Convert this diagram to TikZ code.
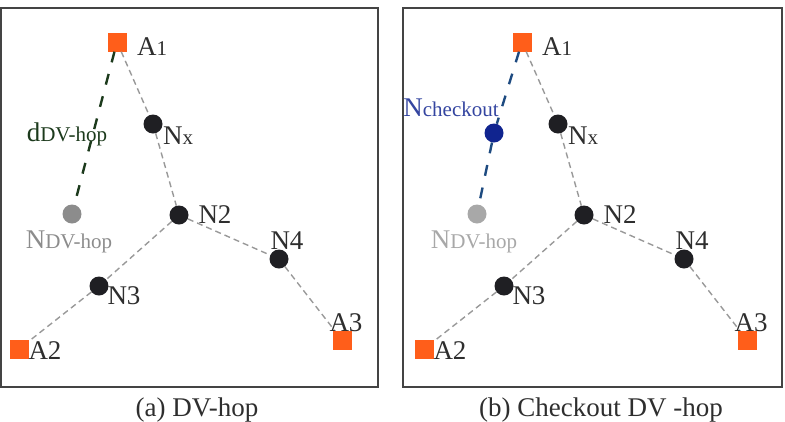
\documentclass[tikz,border=0pt]{standalone}
\usepackage{fontspec}
\setmainfont{Liberation Serif}
\usepackage{tikz}
\usetikzlibrary{positioning}
\definecolor{AnchorOrange}{HTML}{FF5E1A}
\definecolor{SensorBlack}{HTML}{1F1F23}
\definecolor{HopGray}{HTML}{999999}
\definecolor{FrameGray}{HTML}{444444}
\definecolor{TextGray}{HTML}{2E2E2E}
\definecolor{EstGray}{HTML}{8C8C8C}
\definecolor{EstGrayLight}{HTML}{A8A8A8}
\definecolor{DistGreen}{HTML}{1C3A1C}
\definecolor{CheckBlue}{HTML}{10248F}
\definecolor{CheckLine}{HTML}{1D4A80}
\newcommand{\bigsz}{\fontsize{27}{30}\selectfont}
\newcommand{\subtxt}[1]{{\fontsize{21}{24}\selectfont #1}}

\begin{document}
\begin{tikzpicture}[x=1pt, y=-1pt,
    anchornode/.style={rectangle, fill=AnchorOrange, minimum size=19pt, inner sep=0pt},
    sensor/.style={circle, fill=SensorBlack, minimum size=19pt, inner sep=0pt},
    hop/.style={draw=HopGray, line width=1.4pt, dash pattern=on 6pt off 4pt},
    estimate/.style={line width=2.4pt, dash pattern=on 11pt off 12pt},
    lbl/.style={font=\bigsz, inner sep=0pt, text=TextGray},
    frame/.style={draw=FrameGray, line width=1.6pt}]
  \useasboundingbox (0,0) rectangle (785,421);

  % panel frames and captions
  \draw[frame] (1,8) rectangle (378,387);
  \draw[frame] (403,8) rectangle (782,387);
  \node[lbl] (capa) at (197,410) {(a) DV-hop};
  \node[lbl] (capb) at (601,410) {(b) Checkout DV -hop};

  % the same network in both panels
  \foreach \p/\dx/\gc in {a/0/EstGray, b/405/EstGrayLight} {
    \begin{scope}[xshift=\dx pt]
      \node[anchornode] (\p A1) at (117,42) {};
      \node[anchornode] (\p A2) at (19,349) {};
      \node[anchornode] (\p A3) at (342,340) {};
      \node[sensor] (\p Nx) at (153,124) {};
      \node[sensor] (\p N2) at (179,215) {};
      \node[sensor] (\p N3) at (99,286) {};
      \node[sensor] (\p N4) at (279,259) {};
      \node[sensor, fill=\gc] (\p Ndv) at (72,214) {};

      \draw[hop] (\p A1) -- (\p Nx) -- (\p N2) -- (\p N3) -- (\p A2);
      \draw[hop] (\p N2) -- (\p N4) -- (\p A3);

      \node[lbl] (\p A1l) at ([shift={(35,5)}]\p A1) {A\subtxt{1}};
      \node[lbl] (\p A2l) at ([shift={(26,2)}]\p A2) {A2};
      \node[lbl] (\p A3l) at ([shift={(4,-17)}]\p A3) {A3};
      \node[lbl] (\p Nxl) at ([shift={(25,12)}]\p Nx) {N\subtxt{x}};
      \node[lbl] (\p N2l) at ([shift={(36,0)}]\p N2) {N2};
      \node[lbl] (\p N3l) at ([shift={(25,10)}]\p N3) {N3};
      \node[lbl] (\p N4l) at ([shift={(8,-18)}]\p N4) {N4};
      \node[lbl, text=\gc] (\p Ndvl) at ([shift={(-3,28)}]\p Ndv) {N\subtxt{DV-hop}};
    \end{scope}
  }

  % classic DV-hop estimate
  \draw[estimate, draw=DistGreen] (aA1) -- (aNdv);
  \node[lbl, text=DistGreen] (dlbl) at (67,134) {d\subtxt{DV-hop}};

  % checkout point
  \node[sensor, fill=CheckBlue] (bNc) at (494,133) {};
  \draw[estimate, draw=CheckLine] (bA1) -- (bNc) -- (bNdv);
  \node[lbl, text=CheckBlue!85!white] (bNcl) at (451,108) {N\subtxt{checkout}};
\end{tikzpicture}
\end{document}
